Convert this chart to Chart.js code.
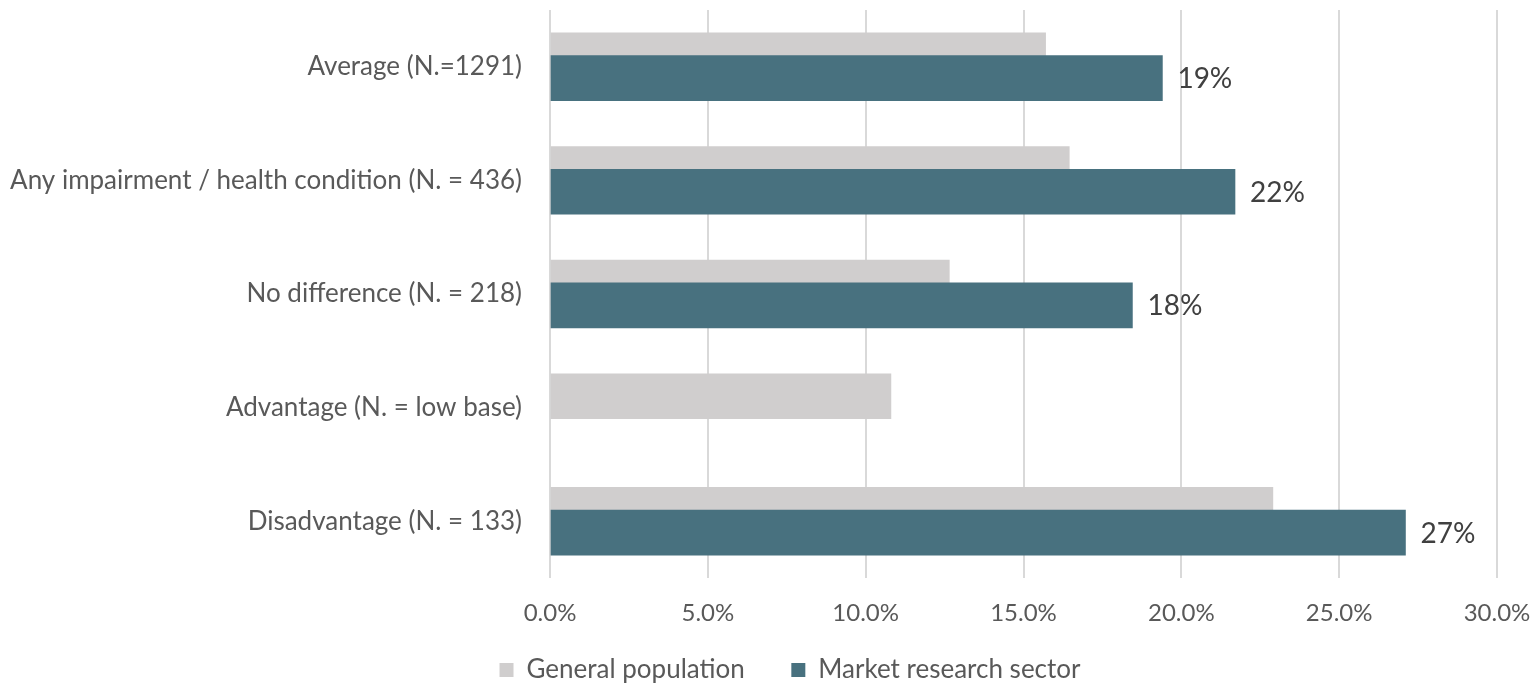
<!DOCTYPE html>
<html>
<head>
<meta charset="utf-8">
<script src="https://cdn.jsdelivr.net/npm/chart.js@4/dist/chart.umd.min.js"></script>
<style>
  html, body { margin: 0; padding: 0; background: #fff; }
  #wrap { width: 1536px; height: 684px; }
</style>
</head>
<body>
<div id="wrap"><canvas id="chart"></canvas></div>
<script>
const categories = [
  'Average (N.=1291)',
  'Any impairment / health condition (N. = 436)',
  'No difference (N. = 218)',
  'Advantage (N. = low base)',
  'Disadvantage (N. = 133)',
];
const generalPopulation = [15.7, 16.45, 12.65, 10.8, 22.9];
const marketResearch = [19.4, 21.7, 18.45, null, 27.1];
const xTicks = [0, 5, 10, 15, 20, 25, 30];

const GRAY = '#d0cece';
const TEAL = '#48717f';
const TEXT = '#595959';
const FONT = 'Lato, "Open Sans", sans-serif';

// gray bar sits a little above the category centre, teal a little below, overlapping
function toPoints(values, shift) {
  return values.map((v, i) => ({ x: v, y: i + shift }));
}

const valueLabels = {
  id: 'valueLabels',
  afterDatasetsDraw(chart) {
    const ctx = chart.ctx;
    const meta = chart.getDatasetMeta(1);
    ctx.save();
    ctx.font = '28px ' + FONT;
    ctx.fillStyle = '#404040';
    ctx.textBaseline = 'middle';
    meta.data.forEach((bar, i) => {
      const v = marketResearch[i];
      if (v == null) return;
      ctx.fillText(Math.round(v) + '%', bar.x + 15, bar.y + 1);
    });
    ctx.restore();
  },
};

new Chart(document.getElementById('chart'), {
  type: 'bar',
  data: {
    datasets: [
      {
        label: 'General population',
        data: toPoints(generalPopulation, -0.1),
        backgroundColor: GRAY,
        barThickness: 45,
        grouped: false,
        order: 2,
      },
      {
        label: 'Market research sector',
        data: toPoints(marketResearch, 0.1),
        backgroundColor: TEAL,
        barThickness: 45,
        grouped: false,
        order: 1,
      },
    ],
  },
  options: {
    indexAxis: 'y',
    responsive: true,
    maintainAspectRatio: false,
    animation: false,
    // negative right/bottom padding only widens the legend box so it centres like the original
    layout: { padding: { top: 10, right: -44, left: 0, bottom: -9 } },
    plugins: {
      legend: {
        position: 'bottom',
        labels: {
          font: { family: FONT, size: 26 },
          color: TEXT,
          boxWidth: 14,
          boxHeight: 14,
          padding: 27,
          sort: (a, b) => a.datasetIndex - b.datasetIndex,
          generateLabels: (chart) => {
            const items = Chart.defaults.plugins.legend.labels.generateLabels(chart);
            items.forEach((item) => {
              if (item.datasetIndex === 0) item.text += '\u2003';
            });
            return items;
          },
        },
      },
      tooltip: { enabled: false },
    },
    scales: {
      x: {
        min: 0,
        max: 30,
        afterBuildTicks: (axis) => {
          axis.ticks = xTicks.map((value) => ({ value }));
        },
        afterFit: (axis) => {
          axis.height = 52;
          axis.paddingRight = 39;
        },
        ticks: {
          callback: (value) => Number(value).toFixed(1) + '%',
          font: { family: FONT, size: 24 },
          color: TEXT,
          padding: 21,
          maxRotation: 0,
        },
        grid: { color: '#d9d9d9', lineWidth: 2, drawTicks: false },
        border: { display: false },
      },
      y: {
        type: 'linear',
        min: -0.5,
        max: 4.5,
        reverse: true,
        offset: false,
        afterBuildTicks: (axis) => {
          axis.ticks = categories.map((_, i) => ({ value: i }));
        },
        afterFit: (axis) => {
          axis.width = 550;
          axis.paddingTop = 0;
          axis.paddingBottom = 0;
        },
        ticks: {
          callback: (value) => categories[value],
          font: { family: FONT, size: 26 },
          color: TEXT,
          padding: 20,
        },
        grid: { display: false },
        border: { display: false },
      },
    },
  },
  plugins: [valueLabels],
});
</script>
</body>
</html>
